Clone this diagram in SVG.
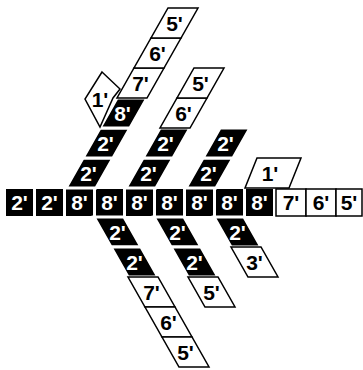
<svg xmlns="http://www.w3.org/2000/svg" width="363" height="370" viewBox="0 0 363 370">
<style>
.k{fill:#000;stroke:#fff;stroke-width:3;stroke-linejoin:miter}
.w{fill:#fff;stroke:#000;stroke-width:1.5;stroke-linejoin:miter}
text{font-family:"Liberation Sans",Arial,sans-serif;font-weight:bold;font-size:21px;text-anchor:middle}
.tk{fill:#fff}
.tw{fill:#000}
</style>
<rect width="363" height="370" fill="#fff"/>
<g id="row">
<g id="r0"><rect x="6" y="189" width="27" height="27"/><text class="tk" x="19.5" y="210">2'</text></g>
<g id="r1"><rect x="36" y="189" width="27" height="27"/><text class="tk" x="49.5" y="210">2'</text></g>
<g id="r2"><rect x="66" y="189" width="27" height="27"/><text class="tk" x="79.5" y="210">8'</text></g>
<g id="r3"><rect x="96" y="189" width="27" height="27"/><text class="tk" x="109.5" y="210">8'</text></g>
<g id="r4"><rect x="126" y="189" width="27" height="27"/><text class="tk" x="139.5" y="210">8'</text></g>
<g id="r5"><rect x="156" y="189" width="27" height="27"/><text class="tk" x="169.5" y="210">8'</text></g>
<g id="r6"><rect x="186" y="189" width="27" height="27"/><text class="tk" x="199.5" y="210">8'</text></g>
<g id="r7"><rect x="216" y="189" width="27" height="27"/><text class="tk" x="229.5" y="210">8'</text></g>
<g id="r8"><rect x="246" y="189" width="27" height="27"/><text class="tk" x="259.5" y="210">8'</text></g>
<g id="r9"><rect class="w" x="276" y="189" width="30" height="27"/><text class="tw" x="291" y="210">7'</text></g>
<g id="r10"><rect class="w" x="306" y="189" width="30" height="27"/><text class="tw" x="321" y="210">6'</text></g>
<g id="r11"><rect class="w" x="336" y="189" width="26" height="27"/><text class="tw" x="349" y="210">5'</text></g>
</g>
<g id="a0"><polygon class="k" points="66,188 96,188 113,158 83,158"/><text class="tk" x="88.5" y="180.5">2'</text></g>
<g id="a1"><polygon class="k" points="83,158 113,158 130,128 100,128"/><text class="tk" x="105.5" y="150.5">2'</text></g>
<g id="a2"><polygon class="k" points="100,128 130,128 147,98 117,98"/><text class="tk" x="122.5" y="120.5">8'</text></g>
<g id="a3"><polygon class="w" points="117,98 147,98 164,68 134,68"/><text class="tw" x="140.5" y="90.5">7'</text></g>
<g id="a4"><polygon class="w" points="134,68 164,68 181,38 151,38"/><text class="tw" x="157.5" y="60.5">6'</text></g>
<g id="a5"><polygon class="w" points="151,38 181,38 198,8 168,8"/><text class="tw" x="174.5" y="30.5">5'</text></g>
<g id="a1p"><polygon class="w" points="102,72 120,89 113,98 100,127 85,99"/><text class="tw" x="100" y="107">1'</text></g>
<g id="b0"><polygon class="k" points="126,188 156,188 173,158 143,158"/><text class="tk" x="148.5" y="180.5">2'</text></g>
<g id="b1"><polygon class="k" points="143,158 173,158 190,128 160,128"/><text class="tk" x="165.5" y="150.5">2'</text></g>
<g id="b2"><polygon class="w" points="160,128 190,128 207,98 177,98"/><text class="tw" x="183.5" y="120.5">6'</text></g>
<g id="b3"><polygon class="w" points="177,98 207,98 224,68 194,68"/><text class="tw" x="200.5" y="90.5">5'</text></g>
<g id="c0"><polygon class="k" points="186,188 216,188 233,158 203,158"/><text class="tk" x="208.5" y="180.5">2'</text></g>
<g id="c1"><polygon class="k" points="203,158 233,158 250,128 220,128"/><text class="tk" x="225.5" y="150.5">2'</text></g>
<g id="g1p"><polygon class="w" points="245,188 289,188 301,158 257,158"/><text class="tw" x="270" y="180.5">1'</text></g>
<g id="d0"><polygon class="k" points="94,217 124,217 141,247 111,247"/><text class="tk" x="117.5" y="239.5">2'</text></g>
<g id="d1"><polygon class="k" points="111,247 141,247 158,277 128,277"/><text class="tk" x="134.5" y="269.5">2'</text></g>
<g id="d2"><polygon class="w" points="128,277 158,277 175,307 145,307"/><text class="tw" x="151.5" y="299.5">7'</text></g>
<g id="d3"><polygon class="w" points="145,307 175,307 192,337 162,337"/><text class="tw" x="168.5" y="329.5">6'</text></g>
<g id="d4"><polygon class="w" points="162,337 192,337 209,367 179,367"/><text class="tw" x="185.5" y="359.5">5'</text></g>
<g id="e0"><polygon class="k" points="154,217 184,217 201,247 171,247"/><text class="tk" x="177.5" y="239.5">2'</text></g>
<g id="e1"><polygon class="k" points="171,247 201,247 218,277 188,277"/><text class="tk" x="194.5" y="269.5">2'</text></g>
<g id="e2"><polygon class="w" points="188,277 218,277 235,307 205,307"/><text class="tw" x="211.5" y="299.5">5'</text></g>
<g id="f0"><polygon class="k" points="214,217 244,217 261,247 231,247"/><text class="tk" x="237.5" y="239.5">2'</text></g>
<g id="f1"><polygon class="w" points="231,247 261,247 278,277 248,277"/><text class="tw" x="254.5" y="269.5">3'</text></g>
</svg>
